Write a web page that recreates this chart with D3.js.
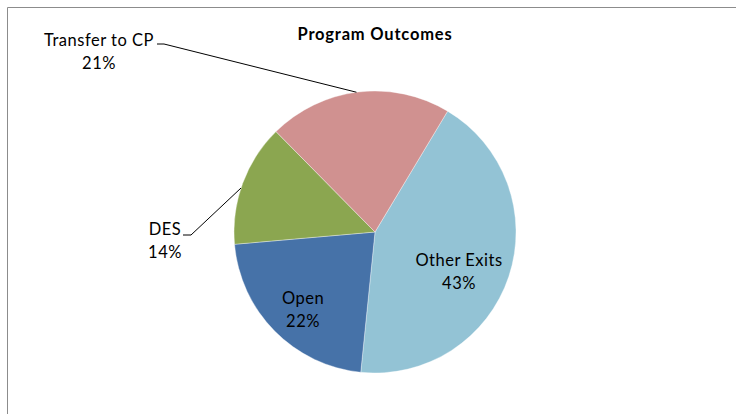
<!DOCTYPE html>
<html><head><meta charset="utf-8">
<script src="https://cdn.jsdelivr.net/npm/d3@7"></script>
<style>body{margin:0;background:#fff}svg{display:block}text{font-family:Lato,"Open Sans",sans-serif;fill:#000}</style>
</head><body>
<script>
const categories = ["Other Exits", "Open", "DES", "Transfer to CP"];
const values = [43, 22, 14, 21];
const percentLabels = ["43%", "22%", "14%", "21%"];
const colors = ["#93C3D5", "#4672A8", "#8BA650", "#D09190"];

const W = 736, H = 414;
const svg = d3.select("body").append("svg").attr("width", W).attr("height", H);

// frame
svg.append("path").attr("d", `M7.5,${H} L7.5,7.5 L${W},7.5`).attr("fill", "none").attr("stroke", "#8c8c8c").attr("stroke-width", 1);

svg.append("text").attr("x", 375).attr("y", 40).attr("text-anchor", "middle")
  .attr("font-weight", "bold").attr("font-size", 16.5).attr("letter-spacing", 0.8).text("Program Outcomes");

const cx = 375, cy = 232, r = 141;
const start = 31 * Math.PI / 180;
const pie = d3.pie().sort(null).startAngle(start).endAngle(start + 2 * Math.PI);
const arcs = pie(values);
const arc = d3.arc().innerRadius(0).outerRadius(r);
const g = svg.append("g").attr("transform", `translate(${cx},${cy})`);
g.selectAll("path").data(arcs).enter().append("path")
  .attr("d", arc).attr("fill", (d, i) => colors[i])
  .attr("stroke", "#fff").attr("stroke-width", 0.6).attr("stroke-opacity", 0.6);

const labelPos = [
  {x: 459, y: 266}, // Other Exits
  {x: 303, y: 304}, // Open
  {x: 165, y: 235}, // DES
  {x: 99,  y: 46}   // Transfer
];
categories.forEach((c, i) => {
  const p = labelPos[i];
  const t = svg.append("text").attr("text-anchor", "middle").attr("font-size", 16.5).attr("letter-spacing", 0.5);
  t.append("tspan").attr("x", p.x).attr("y", p.y).text(c);
  t.append("tspan").attr("x", p.x).attr("y", p.y + 22.5).text(percentLabels[i]);
});

function edgePoint(d, frac) {
  const a = d.startAngle + (d.endAngle - d.startAngle) * frac;
  return [cx + r * Math.sin(a), cy - r * Math.cos(a)];
}
const leaders = [
  {i: 3, pts: [[157, 44], [164, 44]], frac: 0.49},
  {i: 2, pts: [[183, 235], [191, 235]], frac: 0.46}
];
leaders.forEach(l => {
  const e = edgePoint(arcs[l.i], l.frac);
  svg.append("path").attr("d", d3.line()([...l.pts, e]))
    .attr("fill", "none").attr("stroke", "#000").attr("stroke-width", 1);
});
</script>
</body></html>
